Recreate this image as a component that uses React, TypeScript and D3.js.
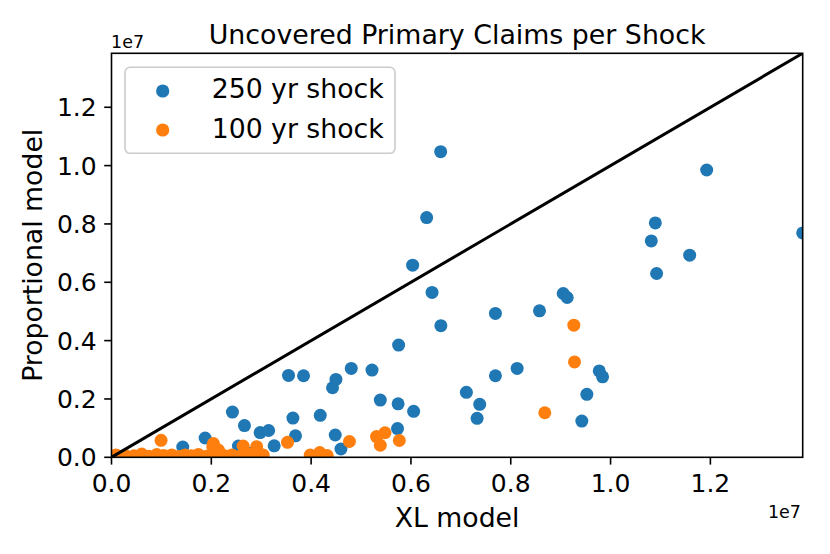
import React from "react";
import * as d3 from "d3";

const title = "Uncovered Primary Claims per Shock";
const xLabel = "XL model";
const yLabel = "Proportional model";
const seriesNames = ["250 yr shock", "100 yr shock"];
const seriesColors = ["#1f77b4", "#ff7f0e"];
const axisMax = 1.385e7;
const xTicks = [0, 0.2e7, 0.4e7, 0.6e7, 0.8e7, 1.0e7, 1.2e7];
const yTicks = [0, 0.2e7, 0.4e7, 0.6e7, 0.8e7, 1.0e7, 1.2e7];

// 250 yr shock (XL, Proportional) in units of 1e6
const shock250X = [2.423, 2.664, 2.979, 3.149, 3.26, 3.635, 3.687, 4.183, 4.483, 4.598, 5.386, 5.743, 6.054, 5.731, 1.876, 1.428, 2.544, 3.547, 3.848, 4.497, 4.429, 4.804, 5.22, 5.753, 7.111, 7.378, 7.326, 7.693, 8.128, 7.693, 8.576, 6.6, 6.423, 6.034, 6.315, 6.596, 9.051, 9.131, 9.773, 9.84, 9.525, 9.424, 10.816, 10.897, 10.923, 11.585, 11.926, 13.85, 2.758];
const shock250Y = [1.551, 1.089, 0.849, 0.918, 0.394, 1.346, 0.736, 1.438, 0.764, 0.284, 1.962, 1.832, 1.575, 0.986, 0.661, 0.353, 0.387, 2.808, 2.795, 2.671, 2.384, 3.048, 2.99, 3.846, 2.226, 1.815, 1.336, 2.795, 3.048, 4.932, 5.021, 4.514, 5.651, 6.586, 8.219, 10.479, 5.616, 5.479, 2.962, 2.76, 2.158, 1.243, 7.418, 8.034, 6.301, 6.928, 9.849, 7.692, 0.137];

// 100 yr shock (XL, Proportional) in units of 1e6
const shock100X = [0.993, 2.042, 2.03, 2.142, 2.638, 2.909, 3.039, 3.527, 4.768, 5.31, 5.48, 5.386, 5.767, 3.982, 4.173, 4.323, 8.682, 9.264, 9.278, 0.01, 0.09, 0.29, 0.606, 0.907, 1.208, 1.474, 1.741, 2.076, 2.411, 2.738, 3.013, 0.16, 0.45, 0.75, 1.05, 1.35, 1.6, 1.9, 2.25, 2.55, 2.85];
const shock100Y = [0.582, 0.473, 0.353, 0.25, 0.387, 0.363, 0.079, 0.514, 0.541, 0.712, 0.842, 0.414, 0.575, 0.079, 0.164, 0.062, 1.527, 4.531, 3.271, 0.04, 0.08, 0.05, 0.11, 0.1, 0.08, 0.08, 0.1, 0.08, 0.08, 0.11, 0.08, 0.03, 0.05, 0.04, 0.06, 0.03, 0.05, 0.04, 0.06, 0.03, 0.05];

const W = 830;
const H = 554;
const M = { left: 111.5, top: 53.3, right: 27.3, bottom: 96.7 };
const FONT = "DejaVu Sans, sans-serif";

export default function App() {
  const iw = W - M.left - M.right;
  const ih = H - M.top - M.bottom;
  const x = d3.scaleLinear().domain([0, axisMax]).range([0, iw]);
  const y = d3.scaleLinear().domain([0, axisMax]).range([ih, 0]);
  const fmt = d3.format(".1f");
  const series = [
    { xs: shock250X, ys: shock250Y },
    { xs: shock100X, ys: shock100Y },
  ];
  const line = d3.line<number>().x((d) => x(d)).y((d) => y(d));

  return (
    <svg
      width={W}
      height={H}
      style={{ position: "absolute", left: 0, top: 0, display: "block", background: "#fff" }}
      fontFamily={FONT}
    >
      <defs>
        <clipPath id="plotclip">
          <rect x={0} y={0} width={iw} height={ih} />
        </clipPath>
      </defs>
      <rect x={0} y={0} width={W} height={H} fill="#fff" />
      <g transform={`translate(${M.left},${M.top})`}>
        <g clipPath="url(#plotclip)">
          {series.map((s, si) =>
            s.xs.map((xv, i) => (
              <circle
                key={`${si}-${i}`}
                cx={x(xv * 1e6)}
                cy={y(s.ys[i] * 1e6)}
                r={6.5}
                fill={seriesColors[si]}
              />
            ))
          )}
          <path d={line([0, axisMax]) || ""} stroke="#000" strokeWidth={3} fill="none" />
        </g>
        <rect x={0} y={0} width={iw} height={ih} fill="none" stroke="#000" strokeWidth={1.6} />
        {xTicks.map((t) => (
          <g key={`x${t}`} transform={`translate(${x(t)},${ih})`}>
            <line y1={0} y2={7.3} stroke="#000" strokeWidth={1.6} />
            <text y={34.4} textAnchor="middle" fontSize={25} fill="#000">
              {fmt(t / 1e7)}
            </text>
          </g>
        ))}
        {yTicks.map((t) => (
          <g key={`y${t}`} transform={`translate(0,${y(t)})`}>
            <line x1={0} x2={-7.3} stroke="#000" strokeWidth={1.6} />
            <text x={-14.8} y={9.1} textAnchor="end" fontSize={25} fill="#000">
              {fmt(t / 1e7)}
            </text>
          </g>
        ))}
      </g>
      <text x={111} y={48} fontSize={17.5} fill="#000">1e7</text>
      <text x={801} y={518} fontSize={17.5} textAnchor="end" fill="#000">1e7</text>
      <text x={M.left + iw / 2} y={43.5} textAnchor="middle" fontSize={26.8} fill="#000">
        {title}
      </text>
      <text x={M.left + iw / 2} y={526.7} textAnchor="middle" fontSize={26.7} fill="#000">
        {xLabel}
      </text>
      <text
        transform={`translate(42,${M.top + ih / 2}) rotate(-90)`}
        textAnchor="middle"
        fontSize={26.7}
        fill="#000"
      >
        {yLabel}
      </text>
      <g>
        <rect x={125} y={67.3} width={270} height={86} rx={5} ry={5} fill="#fff" fillOpacity={0.8} stroke="#cccccc" strokeWidth={1.6} />
        {seriesNames.map((name, i) => (
          <g key={name}>
            <circle cx={162.7} cy={91 + i * 39} r={6.6} fill={seriesColors[i]} />
            <text x={211.7} y={98.3 + i * 40} fontSize={26.7} fill="#000">
              {name}
            </text>
          </g>
        ))}
      </g>
    </svg>
  );
}
